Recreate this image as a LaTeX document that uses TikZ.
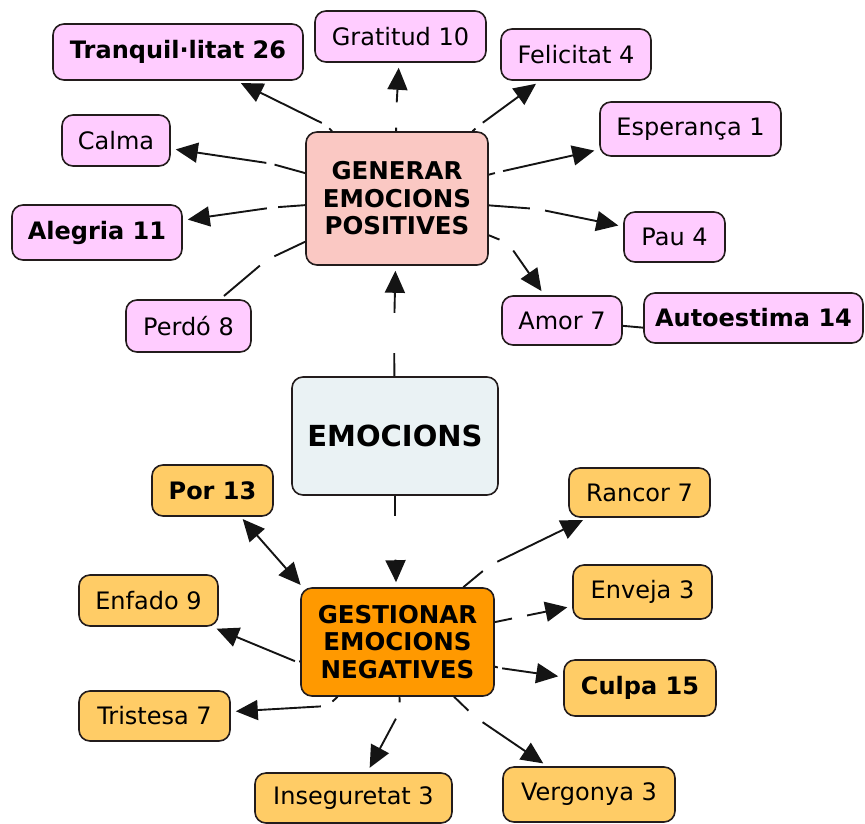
\documentclass[tikz,border=0pt]{standalone}
\usepackage{fontspec}
\setmainfont{DejaVu Sans}
\usetikzlibrary{arrows.meta}

\definecolor{posfill}{RGB}{255,204,255}
\definecolor{genfill}{RGB}{250,200,195}
\definecolor{emofill}{RGB}{234,242,244}
\definecolor{gestfill}{RGB}{255,153,0}
\definecolor{negfill}{RGB}{255,204,102}
\definecolor{boxline}{RGB}{35,28,28}
\definecolor{linecol}{RGB}{20,20,20}

\begin{document}
\begin{tikzpicture}[x=1pt,y=-1pt,
  box/.style={draw=boxline, line width=1.6pt, rounded corners=11pt, inner sep=0pt,
              align=center, font=\fontsize{24}{28}\selectfont},
  sz/.style 2 args={minimum width=#1pt, minimum height=#2pt},
  posbox/.style={box, fill=posfill},
  negbox/.style={box, fill=negfill},
  strong/.style={font=\fontsize{24}{28}\selectfont\bfseries},
  hub/.style={box, font=\fontsize{24.5}{27.5}\selectfont\bfseries},
  lnk/.style={circle, inner sep=0pt, draw=none, minimum size=#1pt},
  conn/.style={draw=linecol, line width=1.9pt},
  tip/.style={Triangle[length=22pt,width=20pt]},
  arr/.style={conn, -{Triangle[length=22pt,width=20pt]}, shorten >=5pt},
  dbl/.style={conn, {Triangle[length=22pt,width=20pt]}-{Triangle[length=22pt,width=20pt]},
              shorten >=3pt, shorten <=3pt},
]
\useasboundingbox (0,0) rectangle (865,823);

% ---------- central concepts ----------
\node[hub, fill=emofill, font=\fontsize{29}{34}\selectfont\bfseries, sz={206}{118}] (emo) at (395,436) {EMOCIONS};
\node[hub, fill=genfill, sz={182}{133}] (gen) at (397,198.5) {GENERAR\\EMOCIONS\\POSITIVES};
\node[hub, fill=gestfill, sz={193}{108}] (gest) at (397.5,642) {GESTIONAR\\EMOCIONS\\NEGATIVES};

% ---------- positive emotions ----------
\node[posbox, strong, sz={250}{56}] (tranq) at (178,52) {Tranquil·litat 26};
\node[posbox, sz={171}{51}] (grat) at (400.5,36.5) {Gratitud 10};
\node[posbox, sz={150}{51}] (feli) at (576,54.5) {Felicitat 4};
\node[posbox, sz={181}{54}] (espe) at (690.5,129) {Esperança 1};
\node[posbox, sz={108}{51}] (calma) at (116,140.5) {Calma};
\node[posbox, strong, sz={170}{55}] (aleg) at (97,232.5) {Alegria 11};
\node[posbox, sz={101}{50}] (pau) at (674.5,237) {Pau 4};
\node[posbox, sz={125}{52}] (perdo) at (188.5,326) {Perdó 8};
\node[posbox, sz={120}{49}] (amor) at (562,320.5) {Amor 7};
\node[posbox, strong, sz={219}{50}] (auto) at (753.5,318) {Autoestima 14};

% ---------- negative emotions ----------
\node[negbox, strong, sz={121}{51}] (por) at (212.5,490.5) {Por 13};
\node[negbox, sz={139}{51}] (enfado) at (148.5,600.5) {Enfado 9};
\node[negbox, sz={151}{50}] (trist) at (154.5,716) {Tristesa 7};
\node[negbox, sz={197}{50}] (inseg) at (353.5,798) {Inseguretat 3};
\node[negbox, sz={141}{49}] (rancor) at (639.5,492.5) {Rancor 7};
\node[negbox, sz={139}{54}] (enveja) at (642.5,592) {Enveja 3};
\node[negbox, strong, sz={152}{56}] (culpa) at (640,688) {Culpa 15};
\node[negbox, sz={172}{55}] (verg) at (589,794.5) {Vergonya 3};

% ---------- empty linking phrases ----------
\node[lnk=40] (lGen) at (394,333) {};
\node[lnk=43] (lGest) at (395,538) {};

\node[lnk=9]  (lTranq) at (326,125) {};
\node[lnk=25] (lGrat)  at (396,115) {};
\node[lnk=9]  (lFeli)  at (479,125.5) {};
\node[lnk=8]  (lEspe)  at (499,172) {};
\node[lnk=8]  (lCalma) at (270.5,163.5) {};
\node[lnk=11] (lAleg)  at (272.5,207.5) {};
\node[lnk=17] (lPerdo) at (266.5,260) {};
\node[lnk=15] (lPau)   at (537.5,209) {};
\node[lnk=18] (lAmor)  at (508,243) {};

\node[lnk=4]  (lEnf)   at (297,662) {};
\node[lnk=13] (lTrist) at (327.5,706) {};
\node[lnk=17] (lInseg) at (400,711) {};
\node[lnk=18] (lVerg)  at (475,717) {};
\node[lnk=4]  (lCulpa) at (500,668) {};
\node[lnk=15] (lEnv)   at (519.5,617) {};
\node[lnk=17] (lRanc)  at (489.5,565.5) {};

% ---------- connections ----------
\draw[conn] (emo) -- (lGen);   \draw[arr] (lGen) -- (gen);
\draw[conn] (emo) -- (lGest);  \draw[arr] (lGest) -- (gest);

\draw[conn] (gen) -- (lTranq); \draw[arr] (lTranq) -- (tranq);
\draw[conn] (gen) -- (lGrat);  \draw[arr] (lGrat) -- (grat);
\draw[conn] (gen) -- (lFeli);  \draw[arr] (lFeli) -- (feli);
\draw[conn] (gen) -- (lEspe);  \draw[arr] (lEspe) -- (espe);
\draw[conn] (gen) -- (lCalma); \draw[arr] (lCalma) -- (calma);
\draw[conn] (gen) -- (lAleg);  \draw[arr] (lAleg) -- (aleg);
\draw[conn] (gen) -- (lPerdo); \draw[conn, shorten >=5pt] (lPerdo) -- (perdo);
\draw[conn] (gen) -- (lPau);   \draw[arr] (lPau) -- (pau);
\draw[conn] (gen) -- (lAmor);  \draw[arr] (lAmor) -- (amor);
\draw[conn] (amor.-5) -- (auto.185);

\draw[dbl] (por.-43) -- (gest.150);
\draw[conn] (gest) -- (lEnf);   \draw[arr] (lEnf) -- (enfado);
\draw[conn] (gest) -- (lTrist); \draw[arr] (lTrist) -- (trist);
\draw[conn] (gest) -- (lInseg); \draw[arr] (lInseg) -- (inseg);
\draw[conn] (gest) -- (lVerg);  \draw[arr] (lVerg) -- (verg);
\draw[conn] (gest) -- (lCulpa); \draw[arr] (lCulpa) -- (culpa);
\draw[conn] (gest) -- (lEnv);   \draw[arr] (lEnv) -- (enveja);
\draw[conn] (gest) -- (lRanc);  \draw[arr] (lRanc) -- (rancor);
\end{tikzpicture}
\end{document}
